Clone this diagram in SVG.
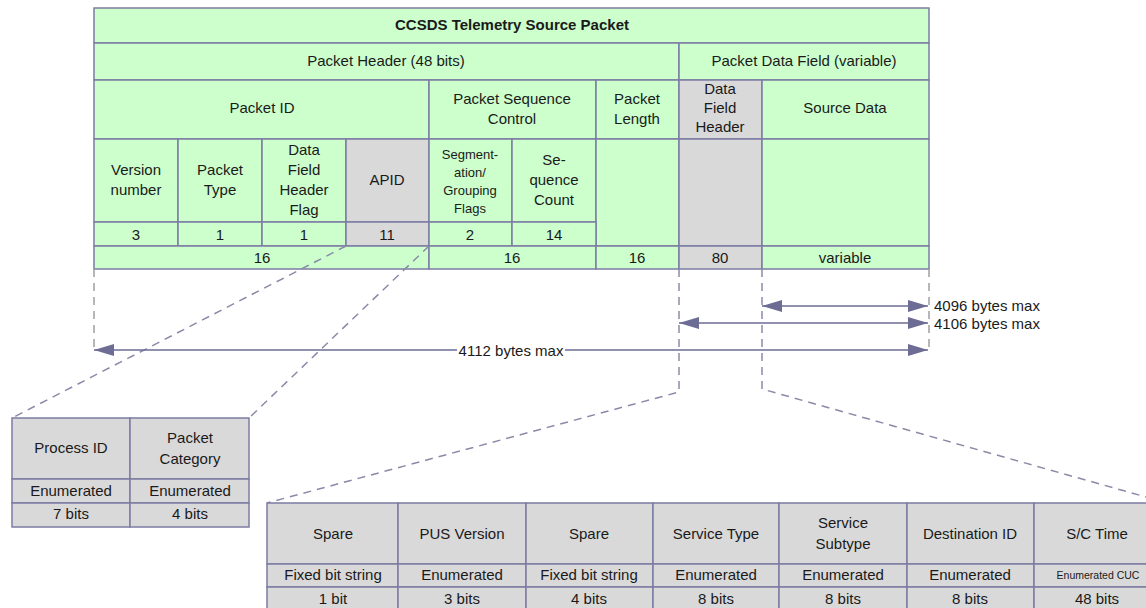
<svg xmlns="http://www.w3.org/2000/svg" width="1146" height="608" viewBox="0 0 1146 608">
<defs>
<style>
.g{fill:#ccffcc;stroke:#7c7ca4;stroke-width:1.5}
.y{fill:#d9d9d9;stroke:#7c7ca4;stroke-width:1.5}
.t{font-family:"Liberation Sans",Arial,sans-serif;font-size:15px;fill:#1a1a1a;text-anchor:middle}
.s{font-size:13px}
.b{font-weight:bold}
.d{fill:none;stroke:#8a8aa8;stroke-width:1.5;stroke-dasharray:8,6}
.dg{fill:none;stroke:#a0a0a0;stroke-width:1.5;stroke-dasharray:8,6}
.a{fill:none;stroke:#6c6c94;stroke-width:1.5}
.l{font-family:"Liberation Sans",Arial,sans-serif;font-size:15px;fill:#1a1a1a}
</style>
<marker id="ah" viewBox="0 0 20 12" refX="20" refY="6" markerWidth="20" markerHeight="12" markerUnits="userSpaceOnUse" orient="auto-start-reverse">
<path d="M0,0 L20,6 L0,12 Z" fill="#6c6c94"/>
</marker>
</defs>
<rect width="1146" height="608" fill="#fff"/>

<g id="main-table">
<rect class="g" x="94" y="8" width="835" height="35"/>
<text class="t b" x="512" y="30">CCSDS Telemetry Source Packet</text>
<rect class="g" x="94" y="43" width="585" height="37"/>
<text class="t" x="386" y="66">Packet Header (48 bits)</text>
<rect class="g" x="679" y="43" width="250" height="37"/>
<text class="t" x="804" y="66">Packet Data Field (variable)</text>
<rect class="g" x="94" y="80" width="335" height="59"/>
<text class="t" x="262" y="113">Packet ID</text>
<rect class="g" x="429" y="80" width="167" height="59"/>
<text class="t" x="512" y="104">Packet Sequence</text>
<text class="t" x="512" y="124">Control</text>
<rect class="g" x="596" y="80" width="83" height="59"/>
<text class="t" x="637" y="104">Packet</text>
<text class="t" x="637" y="124">Length</text>
<rect class="y" x="679" y="80" width="83" height="59"/>
<text class="t" x="720" y="94">Data</text>
<text class="t" x="720" y="113">Field</text>
<text class="t" x="720" y="132">Header</text>
<rect class="g" x="762" y="80" width="167" height="59"/>
<text class="t" x="845" y="113">Source Data</text>

<rect class="g" x="94" y="139" width="84" height="83"/>
<text class="t" x="136" y="175">Version</text>
<text class="t" x="136" y="195">number</text>
<rect class="g" x="178" y="139" width="84" height="83"/>
<text class="t" x="220" y="175">Packet</text>
<text class="t" x="220" y="195">Type</text>
<rect class="g" x="262" y="139" width="84" height="83"/>
<text class="t" x="304" y="155">Data</text>
<text class="t" x="304" y="175">Field</text>
<text class="t" x="304" y="195">Header</text>
<text class="t" x="304" y="215">Flag</text>
<rect class="y" x="346" y="139" width="83" height="83"/>
<text class="t" x="387" y="185">APID</text>
<rect class="g" x="429" y="139" width="83" height="83"/>
<text class="t s" x="470" y="159">Segment-</text>
<text class="t s" x="470" y="177">ation/</text>
<text class="t s" x="470" y="195">Grouping</text>
<text class="t s" x="470" y="213">Flags</text>
<rect class="g" x="512" y="139" width="84" height="83"/>
<text class="t" x="554" y="165">Se-</text>
<text class="t" x="554" y="185">quence</text>
<text class="t" x="554" y="205">Count</text>
<rect class="g" x="596" y="139" width="83" height="107"/>
<rect class="y" x="679" y="139" width="83" height="107"/>
<rect class="g" x="762" y="139" width="167" height="107"/>

<rect class="g" x="94" y="222" width="84" height="24"/>
<text class="t" x="136" y="240">3</text>
<rect class="g" x="178" y="222" width="84" height="24"/>
<text class="t" x="220" y="240">1</text>
<rect class="g" x="262" y="222" width="84" height="24"/>
<text class="t" x="304" y="240">1</text>
<rect class="y" x="346" y="222" width="83" height="24"/>
<text class="t" x="387" y="240">11</text>
<rect class="g" x="429" y="222" width="83" height="24"/>
<text class="t" x="470" y="240">2</text>
<rect class="g" x="512" y="222" width="84" height="24"/>
<text class="t" x="554" y="240">14</text>

<rect class="g" x="94" y="246" width="335" height="23"/>
<text class="t" x="262" y="263">16</text>
<rect class="g" x="429" y="246" width="167" height="23"/>
<text class="t" x="512" y="263">16</text>
<rect class="g" x="596" y="246" width="83" height="23"/>
<text class="t" x="637" y="263">16</text>
<rect class="y" x="679" y="246" width="83" height="23"/>
<text class="t" x="720" y="263">80</text>
<rect class="g" x="762" y="246" width="167" height="23"/>
<text class="t" x="845" y="263">variable</text>
</g>

<g id="connectors">
<path class="dg" d="M94,269 V350"/>
<path class="dg" d="M929,269 V350"/>
<path class="d" d="M679,269 V392 L267,503"/>
<path class="d" d="M762,269 V389 L1146,497"/>
<path class="d" d="M346,246 L12,418"/>
<path class="d" d="M429,246 L249,418"/>
<path class="a" d="M762,306 H928" marker-start="url(#ah)" marker-end="url(#ah)"/>
<path class="a" d="M679,323 H928" marker-start="url(#ah)" marker-end="url(#ah)"/>
<path class="a" d="M94,350 H928" marker-start="url(#ah)" marker-end="url(#ah)"/>
<rect x="457" y="342" width="108" height="16" fill="#fff"/>
<text class="t" x="511" y="356">4112 bytes max</text>
<text class="l" x="934" y="311">4096 bytes max</text>
<text class="l" x="934" y="329">4106 bytes max</text>
</g>

<g id="apid-table">
<rect class="y" x="12" y="418" width="118" height="61"/>
<text class="t" x="71" y="453">Process ID</text>
<rect class="y" x="130" y="418" width="119" height="61"/>
<text class="t" x="190" y="443">Packet</text>
<text class="t" x="190" y="464">Category</text>
<rect class="y" x="12" y="479" width="118" height="24"/>
<text class="t" x="71" y="496">Enumerated</text>
<rect class="y" x="130" y="479" width="119" height="24"/>
<text class="t" x="190" y="496">Enumerated</text>
<rect class="y" x="12" y="503" width="118" height="24"/>
<text class="t" x="71" y="519">7 bits</text>
<rect class="y" x="130" y="503" width="119" height="24"/>
<text class="t" x="190" y="519">4 bits</text>
</g>

<g id="dfh-table">
<rect class="y" x="267" y="503" width="131" height="61"/>
<text class="t" x="333" y="539">Spare</text>
<rect class="y" x="398" y="503" width="128" height="61"/>
<text class="t" x="462" y="539">PUS Version</text>
<rect class="y" x="526" y="503" width="127" height="61"/>
<text class="t" x="589" y="539">Spare</text>
<rect class="y" x="653" y="503" width="126" height="61"/>
<text class="t" x="716" y="539">Service Type</text>
<rect class="y" x="779" y="503" width="128" height="61"/>
<text class="t" x="843" y="528">Service</text>
<text class="t" x="843" y="549">Subtype</text>
<rect class="y" x="907" y="503" width="127" height="61"/>
<text class="t" x="970" y="539">Destination ID</text>
<rect class="y" x="1034" y="503" width="128" height="61"/>
<text class="t" x="1097" y="539">S/C Time</text>

<rect class="y" x="267" y="564" width="131" height="23"/>
<text class="t" x="333" y="580">Fixed bit string</text>
<rect class="y" x="398" y="564" width="128" height="23"/>
<text class="t" x="462" y="580">Enumerated</text>
<rect class="y" x="526" y="564" width="127" height="23"/>
<text class="t" x="589" y="580">Fixed bit string</text>
<rect class="y" x="653" y="564" width="126" height="23"/>
<text class="t" x="716" y="580">Enumerated</text>
<rect class="y" x="779" y="564" width="128" height="23"/>
<text class="t" x="843" y="580">Enumerated</text>
<rect class="y" x="907" y="564" width="127" height="23"/>
<text class="t" x="970" y="580">Enumerated</text>
<rect class="y" x="1034" y="564" width="128" height="23"/>
<text class="t" x="1098" y="579" style="font-size:10.5px">Enumerated CUC</text>

<rect class="y" x="267" y="587" width="131" height="30"/>
<text class="t" x="333" y="604">1 bit</text>
<rect class="y" x="398" y="587" width="128" height="30"/>
<text class="t" x="462" y="604">3 bits</text>
<rect class="y" x="526" y="587" width="127" height="30"/>
<text class="t" x="589" y="604">4 bits</text>
<rect class="y" x="653" y="587" width="126" height="30"/>
<text class="t" x="716" y="604">8 bits</text>
<rect class="y" x="779" y="587" width="128" height="30"/>
<text class="t" x="843" y="604">8 bits</text>
<rect class="y" x="907" y="587" width="127" height="30"/>
<text class="t" x="970" y="604">8 bits</text>
<rect class="y" x="1034" y="587" width="128" height="30"/>
<text class="t" x="1097" y="604">48 bits</text>
</g>
</svg>
